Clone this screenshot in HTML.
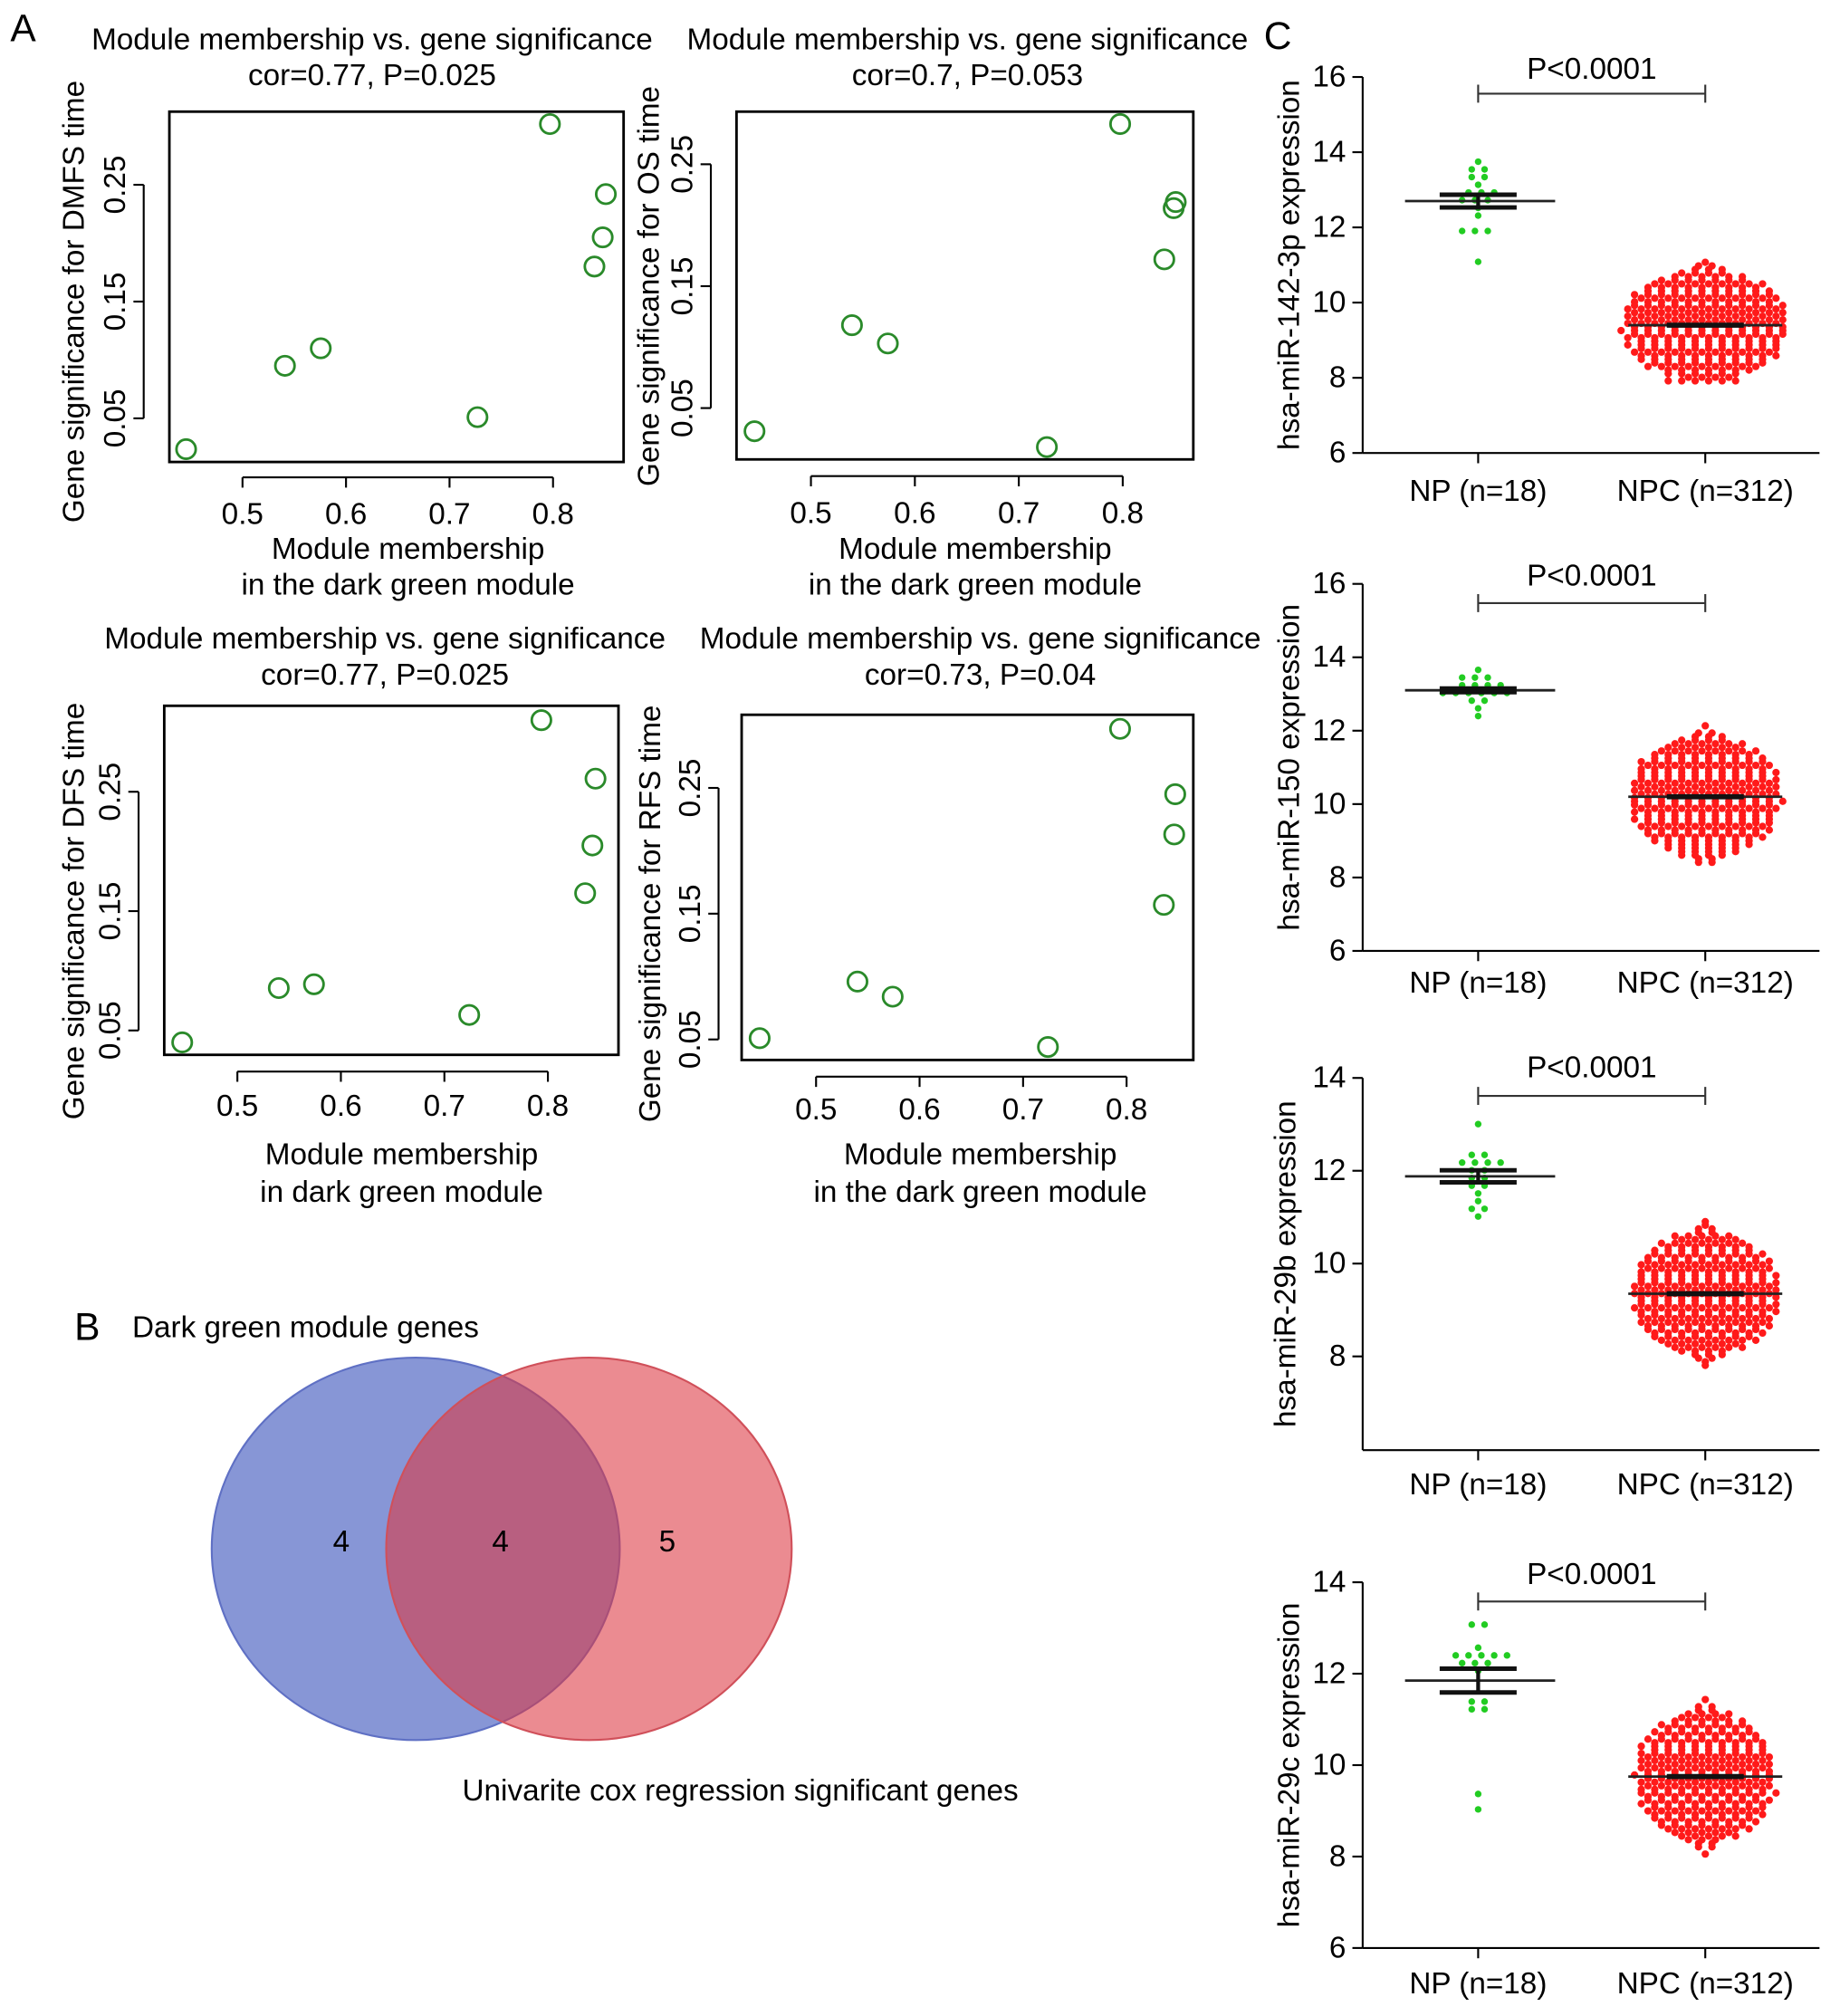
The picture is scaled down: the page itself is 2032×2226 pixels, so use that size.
<!DOCTYPE html>
<html><head><meta charset="utf-8"><style>
html,body{margin:0;padding:0;background:#fff}
svg{display:block;font-family:"Liberation Sans",Arial,sans-serif}
</style></head><body>
<svg id="fig" width="2032" height="2226" viewBox="0 0 1434 1571" preserveAspectRatio="none" xmlns="http://www.w3.org/2000/svg">
<rect width="1434" height="1571" fill="#fff"/>
<text x="8" y="32" font-size="30">A</text>
<text x="985" y="38" font-size="30">C</text>
<text x="58" y="1044" font-size="30">B</text>
<g id="venn">
<text x="103" y="1042" font-size="23.5">Dark green module genes</text>
<ellipse cx="324" cy="1207" rx="159" ry="149" fill="#8796d6" stroke="#5f70c4" stroke-width="1.5"/>
<ellipse cx="459" cy="1207" rx="158" ry="149" fill="rgba(220,55,65,0.58)" stroke="#d0505a" stroke-width="1.5"/>
<text x="266" y="1209" font-size="23.5" text-anchor="middle">4</text>
<text x="390" y="1209" font-size="23.5" text-anchor="middle">4</text>
<text x="520" y="1209" font-size="23.5" text-anchor="middle">5</text>
<text x="577" y="1403" font-size="23.5" text-anchor="middle">Univarite cox regression significant genes</text>
</g>
</svg>
<script>
// ---------- Panel A scatter data ----------
const a1X=[0.4455,0.541,0.5756,0.727,0.797,0.851,0.848,0.840];
const a1Y=[0.0236,0.095,0.110,0.051,0.302,0.242,0.205,0.180];
const a2X=[0.4457,0.5395,0.574,0.727,0.7975,0.851,0.849,0.840];
const a2Y=[0.031,0.118,0.103,0.018,0.283,0.219,0.214,0.172];
const a3X=[0.4467,0.540,0.574,0.724,0.7937,0.846,0.843,0.836];
const a3Y=[0.040,0.0855,0.0887,0.063,0.310,0.261,0.205,0.165];
const a4X=[0.4455,0.540,0.574,0.724,0.7937,0.847,0.846,0.836];
const a4Y=[0.051,0.096,0.084,0.044,0.297,0.245,0.213,0.157];
const aXTicks=[0.5,0.6,0.7,0.8];
const aYTicks=[0.05,0.15,0.25];
const aTitles=["cor=0.77, P=0.025","cor=0.7, P=0.053","cor=0.77, P=0.025","cor=0.73, P=0.04"];
const aYLabels=["Gene significance for DMFS time","Gene significance for OS time","Gene significance for DFS time","Gene significance for RFS time"];
const aXLabel2=["in the dark green module","in the dark green module","in dark green module","in the dark green module"];

// ---------- Panel C data ----------
const cTitles=["hsa-miR-142-3p expression","hsa-miR-150 expression","hsa-miR-29b expression","hsa-miR-29c expression"];
const cCategories=["NP (n=18)","NPC (n=312)"];
const npValues=[
 [13.70,13.60,13.46,13.40,13.33,13.11,13.01,12.92,12.85,12.76,12.68,12.64,12.54,12.34,11.91,11.87,11.91,11.0],
 [13.6,13.5,13.45,13.4,13.3,13.25,13.2,13.15,13.1,13.1,13.05,13.0,13.0,12.95,12.9,12.85,12.7,12.4],
 [13.05,12.4,12.3,12.2,12.2,12.15,12.1,12.0,11.95,11.9,11.85,11.7,11.6,11.5,11.4,11.2,11.1,10.95],
 [13.09,13.06,12.58,12.41,12.38,12.33,12.38,12.41,12.17,12.17,12.20,12.06,11.44,11.44,11.30,11.21,9.39,8.99]];
const npMean=[12.70,13.10,11.88,11.85];
const npSem=[0.17,0.05,0.13,0.26];
const npcMean=[9.40,10.20,9.35,9.75];
const npcSd=[0.85,0.9,0.75,0.8];
const npcSpread=[1.3,1.5,1.2,1.3];
const npcMin=[7.9,8.4,7.6,8.0];
const npcMax=[11.7,12.5,11.4,11.8];
const npcN=[312,312,312,312];
const cYTicks=[[6,8,10,12,14,16],[6,8,10,12,14,16],[8,10,12,14],[6,8,10,12,14]];
const pLabel="P<0.0001";

const NS="http://www.w3.org/2000/svg";
const svg=document.getElementById('fig');
const FS=23.5;
function mk(tag,attrs,parent,text){const e=document.createElementNS(NS,tag);for(const k in attrs)e.setAttribute(k,attrs[k]);if(text!==undefined)e.textContent=text;(parent||svg).appendChild(e);return e;}

const aLay=[
 {box:[132,87,486,360],x5:189,x8:431,y05:326,y25:144,yax:112,xax:372,xl:401,xt:[428,456],xtc:318,tt:[31,59],ttc:290,ytx:58},
 {box:[574,87,930,358],x5:632,x8:875,y05:318,y25:128,yax:554,xax:371,xl:400,xt:[428,456],xtc:760,tt:[31,59],ttc:754,ytx:506},
 {box:[128,550,482,822],x5:185,x8:427,y05:803,y25:617,yax:108,xax:835,xl:862,xt:[900,929],xtc:313,tt:[498,526],ttc:300,ytx:58},
 {box:[578,557,930,826],x5:636,x8:878,y05:810,y25:614,yax:560,xax:839,xl:865,xt:[900,929],xtc:764,tt:[498,526],ttc:764,ytx:507}];
const aXs=[a1X,a2X,a3X,a4X], aYs=[a1Y,a2Y,a3Y,a4Y];
aLay.forEach((L,i)=>{
 const g=mk('g',{});
 
 
 const sx=v=>L.x5+(v-0.5)*(L.x8-L.x5)/0.3;
 const sy=v=>L.y05-(v-0.05)*(L.y05-L.y25)/0.2;
 const [bx0,by0,bx1,by1]=L.box;
 const t1=mk('text',{x:L.ttc,y:L.tt[0],'font-size':FS,'text-anchor':'middle','dominant-baseline':'central'},g,'Module membership vs. gene significance');
 
 const t2=mk('text',{x:L.ttc,y:L.tt[1],'font-size':FS,'text-anchor':'middle','dominant-baseline':'central'},g,aTitles[i]);
 
 const bx=mk('rect',{x:bx0,y:by0,width:bx1-bx0,height:by1-by0,fill:'none',stroke:'#000','stroke-width':2},g);
 
 const xa=mk('line',{x1:sx(aXTicks[0]),x2:sx(aXTicks[aXTicks.length-1]),y1:L.xax,y2:L.xax,stroke:'#000','stroke-width':1.5},g);
 
 aXTicks.forEach(t=>{mk('line',{x1:sx(t),x2:sx(t),y1:L.xax,y2:L.xax+8,stroke:'#000','stroke-width':1.5},g);
  const tl=mk('text',{x:sx(t),y:L.xl,'font-size':FS,'text-anchor':'middle','dominant-baseline':'central'},g,String(t));
  });
 const ya=mk('line',{x1:L.yax,x2:L.yax,y1:sy(aYTicks[0]),y2:sy(aYTicks[aYTicks.length-1]),stroke:'#000','stroke-width':1.5},g);
 
 aYTicks.forEach(t=>{mk('line',{x1:L.yax-8,x2:L.yax,y1:sy(t),y2:sy(t),stroke:'#000','stroke-width':1.5},g);
  const tl=mk('text',{x:0,y:0,'font-size':FS,'text-anchor':'middle','dominant-baseline':'central',transform:`translate(${L.yax-22},${sy(t)}) rotate(-90)`},g,t.toFixed(2));
  });
 const xt1=mk('text',{x:L.xtc,y:L.xt[0],'font-size':FS,'text-anchor':'middle','dominant-baseline':'central'},g,'Module membership');
 
 const xt2=mk('text',{x:L.xtc,y:L.xt[1],'font-size':FS,'text-anchor':'middle','dominant-baseline':'central'},g,aXLabel2[i]);
 
 const yc=(sy(aYTicks[0])+sy(aYTicks[2]))/2;
 const yt=mk('text',{x:0,y:0,'font-size':FS,'text-anchor':'middle','dominant-baseline':'central',transform:`translate(${L.ytx},${yc}) rotate(-90)`},g,aYLabels[i]);
 
 aXs[i].forEach((xv,j)=>{const c=mk('circle',{cx:sx(xv),cy:sy(aYs[i][j]),r:7.5,fill:'none',stroke:'#2a8a2a','stroke-width':2},g);
  });
});

const cLay=[
 {yTop:60,vTop:16,yBot:353,vBot:6,axBot:353,lab:383,br:73,pt:54,ytx:1005},
 {yTop:455,vTop:16,yBot:741,vBot:6,axBot:741,lab:766,br:470,pt:449,ytx:1005},
 {yTop:840,vTop:14,yBot:1057,vBot:8,axBot:1130,lab:1157,br:854,pt:832,ytx:1002},
 {yTop:1233,vTop:14,yBot:1518,vBot:6,axBot:1518,lab:1546,br:1248,pt:1227,ytx:1005}];
const axX=1062, npX=1152, npcX=1329, axRight=1418;
function invN(p){const a=[-39.696830,220.946098,-275.928510,138.357751,-30.664798,2.506628],b=[-54.476099,161.585837,-155.698979,66.801312,-13.280682],c=[-0.007784894,-0.32239645,-2.400758,-2.549732,4.374664,2.938163],d=[0.007784695,0.32246712,2.445134,3.754408];
 let q,r;if(p<0.02425){q=Math.sqrt(-2*Math.log(p));return (((((c[0]*q+c[1])*q+c[2])*q+c[3])*q+c[4])*q+c[5])/((((d[0]*q+d[1])*q+d[2])*q+d[3])*q+1);}
 if(p>1-0.02425){q=Math.sqrt(-2*Math.log(1-p));return -(((((c[0]*q+c[1])*q+c[2])*q+c[3])*q+c[4])*q+c[5])/((((d[0]*q+d[1])*q+d[2])*q+d[3])*q+1);}
 q=p-0.5;r=q*q;return (((((a[0]*r+a[1])*r+a[2])*r+a[3])*r+a[4])*r+a[5])*q/(((((b[0]*r+b[1])*r+b[2])*r+b[3])*r+b[4])*r+1);}
function swarm(g,vals,cx,sy,rowH,dx,color,r,name){
 const rows={};vals.forEach(v=>{const k=Math.round(sy(v)/rowH);(rows[k]=rows[k]||[]).push(v);});
 Object.keys(rows).forEach(k=>{const n=rows[k].length;const y=k*rowH;const off=(k%2)?dx/4:-dx/4;
  rows[k].forEach((v,j)=>{const x=cx+(j-(n-1)/2)*dx+(n>2?off:0);
   const c=mk('circle',{cx:x,cy:y,r:r,fill:color},g);
   
   });});}
cLay.forEach((L,i)=>{
 const g=mk('g',{});
 
 
 const sy=v=>L.yTop+(L.vTop-v)*(L.yBot-L.yTop)/(L.vTop-L.vBot);
 const ya=mk('line',{x1:axX,x2:axX,y1:L.yTop,y2:L.axBot,stroke:'#000','stroke-width':1.5},g);
 
 const xa=mk('line',{x1:axX,x2:axRight,y1:L.axBot,y2:L.axBot,stroke:'#000','stroke-width':1.5},g);
 
 cYTicks[i].forEach(t=>{mk('line',{x1:axX-8,x2:axX,y1:sy(t),y2:sy(t),stroke:'#000','stroke-width':1.5},g);
  const tl=mk('text',{x:axX-13,y:sy(t),'font-size':FS,'text-anchor':'end','dominant-baseline':'central'},g,String(t));
  });
 [npX,npcX].forEach((x,j)=>{mk('line',{x1:x,x2:x,y1:L.axBot,y2:L.axBot+8,stroke:'#000','stroke-width':1.5},g);
  const tl=mk('text',{x:x,y:L.lab,'font-size':FS,'text-anchor':'middle','dominant-baseline':'central'},g,cCategories[j]);
  });
 const yc=(L.yTop+L.axBot)/2;
 const yt=mk('text',{x:0,y:0,'font-size':FS,'text-anchor':'middle','dominant-baseline':'central',transform:`translate(${L.ytx},${yc}) rotate(-90)`},g,cTitles[i]);
 
 const br=mk('path',{d:`M${npX},${L.br-7}V${L.br+7}M${npX},${L.br}H${npcX}M${npcX},${L.br-7}V${L.br+7}`,stroke:'#333','stroke-width':1.5,fill:'none'},g);
 
 const pt=mk('text',{x:(npX+npcX)/2,y:L.pt,'font-size':FS,'text-anchor':'middle','dominant-baseline':'central'},g,pLabel);
 
 const n=npcN[i];const vals=[];
 for(let k=0;k<n;k++){const p=(k+0.5)/n;let v=npcMean[i]+0.65*npcSpread[i]*(2*p-1)+0.35*npcSd[i]*invN(p);v=Math.max(npcMin[i],Math.min(npcMax[i],v));vals.push(v);}
 swarm(g,vals,npcX,sy,2.8,10.5,'#ff1a1a',2.9,'npc-point');
 swarm(g,npValues[i],npX,sy,6,10,'#22cc22',2.6,'np-point');
 const m=mk('line',{x1:npX-57,x2:npX+60,y1:sy(npMean[i]),y2:sy(npMean[i]),stroke:'#222','stroke-width':2},g);
 
 [npMean[i]+npSem[i],npMean[i]-npSem[i]].forEach(v=>{const s=mk('line',{x1:npX-30,x2:npX+30,y1:sy(v),y2:sy(v),stroke:'#111','stroke-width':3.5},g);
  });
 mk('line',{x1:npX,x2:npX,y1:sy(npMean[i]+npSem[i]),y2:sy(npMean[i]-npSem[i]),stroke:'#111','stroke-width':3},g);
 const m2=mk('line',{x1:npcX-60,x2:npcX+60,y1:sy(npcMean[i]),y2:sy(npcMean[i]),stroke:'#222','stroke-width':2},g);
 
 const s2=mk('line',{x1:npcX-30,x2:npcX+30,y1:sy(npcMean[i]),y2:sy(npcMean[i]),stroke:'#111','stroke-width':4},g);
 
});
</script>
</body></html>
